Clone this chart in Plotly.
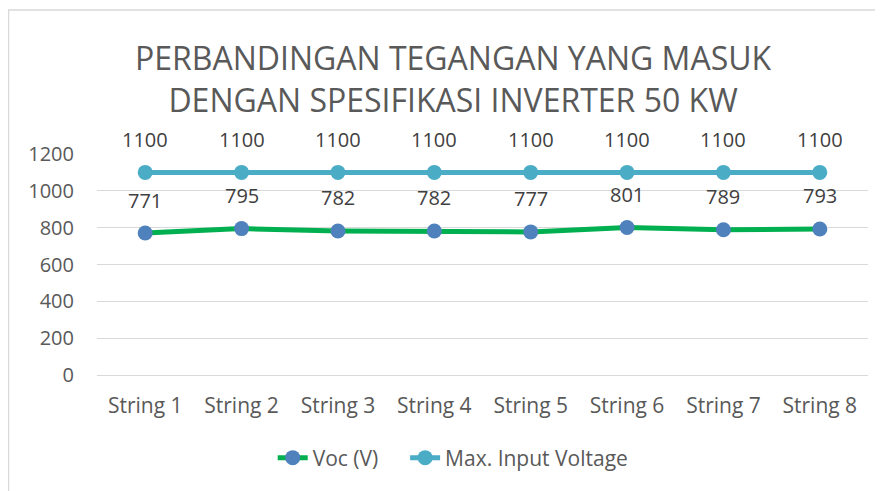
import plotly.graph_objects as go

categories = ["String 1", "String 2", "String 3", "String 4", "String 5", "String 6", "String 7", "String 8"]
voc = [771, 795, 782, 782, 777, 801, 789, 793]
max_input = [1100, 1100, 1100, 1100, 1100, 1100, 1100, 1100]
y_ticks = [0, 200, 400, 600, 800, 1000, 1200]

FONT = "Open Sans"
GREY = "#595959"
LABEL = "#404040"
PAD = "\u00a0" * 4

fig = go.Figure()
fig.add_trace(go.Scatter(
    x=categories, y=voc, name="Voc (V)" + PAD, mode="lines+markers",
    line=dict(color="#00B050", width=5),
    marker=dict(color="#4F81BD", size=15),
    cliponaxis=False,
))
fig.add_trace(go.Scatter(
    x=categories, y=max_input, name="Max. Input Voltage", mode="lines+markers",
    line=dict(color="#4BACC6", width=5),
    marker=dict(color="#4BACC6", size=15),
    cliponaxis=False,
))

annotations = []
for series in (voc, max_input):
    for c, v in zip(categories, series):
        annotations.append(dict(
            x=c, y=v, xref="x", yref="y", text=str(v), showarrow=False,
            yanchor="middle", yshift=33,
            font=dict(family=FONT, size=20, color=LABEL),
        ))

L, T, PW, PH = 89, 146, 771, 221

fig.update_layout(
    width=883, height=491,
    margin=dict(l=L, r=883 - L - PW, t=T, b=491 - T - PH),
    paper_bgcolor="white", plot_bgcolor="white",
    title=dict(
        text="PERBANDINGAN TEGANGAN YANG MASUK<br>DENGAN SPESIFIKASI INVERTER 50 KW",
        x=0.504, xanchor="center", xref="container", y=0.873, yanchor="middle",
        font=dict(family=FONT, size=32, color=GREY),
    ),
    font=dict(family=FONT, color=GREY),
    xaxis=dict(
        showgrid=False, showline=True, linecolor="#D9D9D9", linewidth=1,
        tickfont=dict(family=FONT, size=21, color=GREY), ticks="",
        range=[-0.5, 7.5], ticklabelstandoff=12,
    ),
    yaxis=dict(
        range=[0, 1200], tickvals=y_ticks, showgrid=True, gridcolor="#D9D9D9",
        gridwidth=1, zeroline=False, showline=False,
        tickfont=dict(family=FONT, size=20, color=GREY), ticks="",
        ticklabelstandoff=22,
    ),
    legend=dict(
        orientation="h", x=0.462, xanchor="center", y=(T + PH - 450) / PH, yanchor="middle",
        font=dict(family=FONT, size=21, color=GREY),
    ),
    annotations=annotations,
    shapes=[
        dict(type="line", xref="paper", yref="paper",
             x0=(0 - L) / PW, x1=(900 - L) / PW,
             y0=(T + PH - 2) / PH, y1=(T + PH - 2) / PH,
             line=dict(color="#D9D9D9", width=1.5)),
        dict(type="line", xref="paper", yref="paper",
             x0=(0.5 - L) / PW, x1=(0.5 - L) / PW,
             y0=(T + PH - 2) / PH, y1=(T + PH - 490) / PH,
             line=dict(color="#D9D9D9", width=1.5)),
    ],
)

fig.write_html("out.html")
